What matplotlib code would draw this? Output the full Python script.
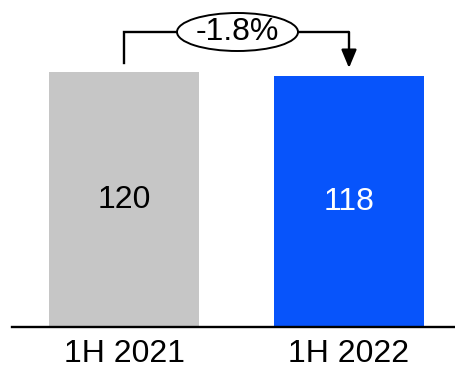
import matplotlib
matplotlib.use("Agg")
import matplotlib.pyplot as plt
from matplotlib.patches import Ellipse

plt.rcParams['font.family'] = ['Liberation Sans', 'DejaVu Sans']

# Data
periods = ["1H 2021", "1H 2022"]
values = [120, 118]
bar_colors = ["#c6c6c6", "#0754fb"]
label_colors = ["black", "white"]
change_label = "-1.8%"

W, H = 455, 371
fig = plt.figure(figsize=(W / 100, H / 100), dpi=100)

base_px = 327          # baseline (pixels from top)
top_px_of_max = 72     # top of the tallest bar
ymax = max(values) * base_px / (base_px - top_px_of_max)
ax = fig.add_axes([0, (H - base_px) / H, 1, base_px / H])

spacing_px = 225
first_center_px = 124
xlo = -first_center_px / spacing_px
ax.set_xlim(xlo, xlo + W / spacing_px)
ax.set_ylim(0, ymax)

x = list(range(len(periods)))
bar_w = 150 / spacing_px
ax.bar(x, values, width=bar_w, color=bar_colors, zorder=2)

for xi, v, c in zip(x, values, label_colors):
    ax.text(xi, v / 2, str(v), ha="center", va="center", fontsize=23, color=c, zorder=3)

# baseline
ax.axhline(0, xmin=12 / W, xmax=1, color="black", lw=1.7, zorder=3, clip_on=False)

for s in ax.spines.values():
    s.set_visible(False)
ax.set_yticks([])
ax.set_xticks(x)
ax.set_xticklabels(periods, fontsize=23)
ax.tick_params(axis="x", length=0, pad=9)

# change bracket
px2y = ymax / base_px
y_line = (base_px - 32) * px2y
y_start = (base_px - 63) * px2y
y_tip = (base_px - 68) * px2y
ell_cx = (237.5 - first_center_px) / spacing_px
ell_w = 121 / spacing_px
ell_h = 38 * px2y

lw = 1.7
ax.plot([x[0], x[0], ell_cx - ell_w / 2], [y_start, y_line, y_line],
        color="black", lw=lw, solid_joinstyle="miter", clip_on=False)
ax.plot([ell_cx + ell_w / 2, x[1]], [y_line, y_line], color="black", lw=lw,
        solid_capstyle="butt", clip_on=False)
ax.annotate("", xy=(x[1], y_tip), xytext=(x[1], y_line),
            arrowprops=dict(arrowstyle="-|>,head_length=0.55,head_width=0.23",
                            mutation_scale=20, color="black", lw=lw,
                            shrinkA=0, shrinkB=0))
ax.add_patch(Ellipse((ell_cx, y_line), ell_w, ell_h, facecolor="white",
                     edgecolor="black", lw=1.4, clip_on=False, zorder=4))
ax.text(ell_cx, y_line, change_label, ha="center", va="center", fontsize=23, zorder=5)

fig.savefig("out.png", dpi=100)
